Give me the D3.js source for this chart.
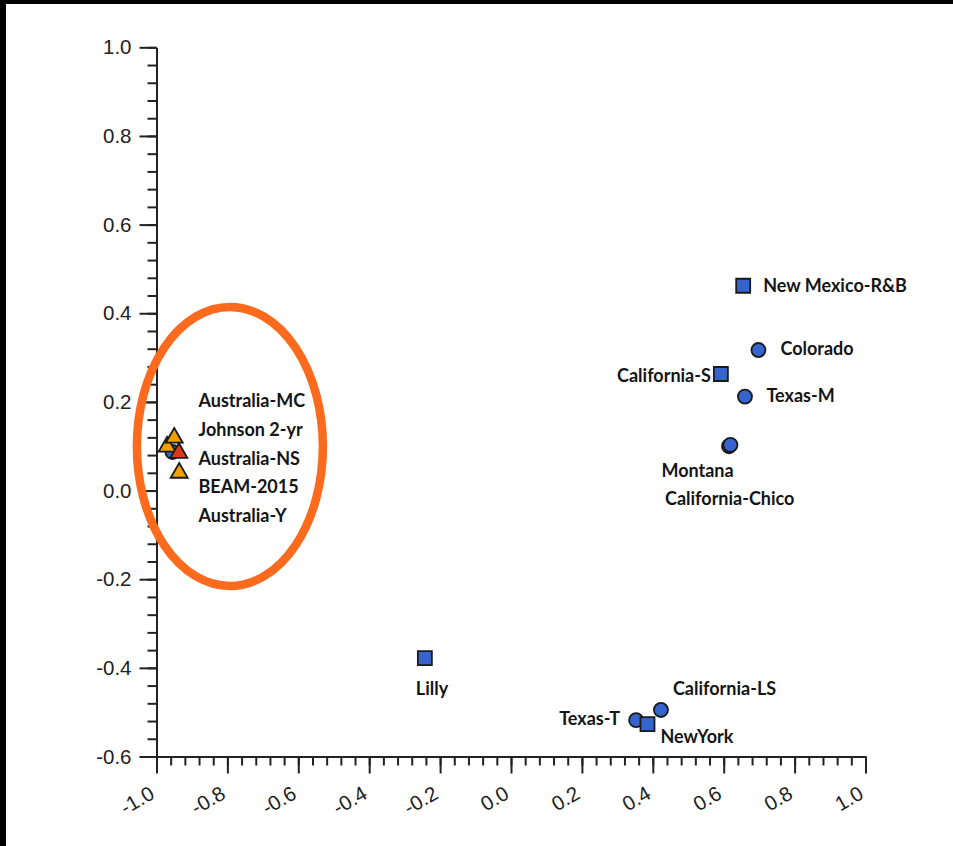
<!DOCTYPE html>
<html>
<head>
<meta charset="utf-8">
<script src="https://cdn.jsdelivr.net/npm/d3@7"></script>
<style>
  html, body { margin: 0; padding: 0; background: #fff; }
  svg { display: block; }
  .axis text { font-family: "Liberation Sans", Arial, sans-serif; font-size: 20.5px; fill: #222; }
  .axis path, .axis line { stroke: #222; stroke-width: 2; }
  .lbl { font-family: Lato, "Open Sans", sans-serif; font-weight: 700; font-size: 18px; fill: #151515; }
</style>
</head>
<body>
<svg id="chart" width="953" height="846"></svg>
<script>
// Programme / study names and their coordinates on the two dimensions
const names = [
  "New Mexico-R&B", "Colorado", "California-S", "Texas-M",
  "California-Chico", "Montana", "Lilly", "Texas-T", "NewYork", "California-LS",
  "Johnson 2-yr", "Australia-NS", "Australia-MC", "BEAM-2015", "Australia-Y"
];
const dim1 = [
  0.655, 0.698, 0.592, 0.660,
  0.615, 0.619, -0.243, 0.353, 0.385, 0.423,
  -0.955, -0.970, -0.950, -0.937, -0.936
];
const dim2 = [
  0.462, 0.317, 0.263, 0.212,
  0.100, 0.103, -0.378, -0.518, -0.527, -0.495,
  0.087, 0.099, 0.119, 0.085, 0.040
];
const groups = [
  "A", "B", "A", "B",
  "B", "B", "A", "B", "A", "B",
  "B", "C", "C", "D", "C"
];

// Names listed inside the highlighted cluster
const clusterNames = ["Australia-MC", "Johnson 2-yr", "Australia-NS", "BEAM-2015", "Australia-Y"];

// Axis ticks
const xMajor = [-1.0, -0.8, -0.6, -0.4, -0.2, 0.0, 0.2, 0.4, 0.6, 0.8, 1.0];
const xTickLabels = ["-1.0", "-0.8", "-0.6", "-0.4", "-0.2", "0.0", "0.2", "0.4", "0.6", "0.8", "1.0"];
const yMajor = [1.0, 0.8, 0.6, 0.4, 0.2, 0.0, -0.2, -0.4, -0.6];
const yTickLabels = ["1.0", "0.8", "0.6", "0.4", "0.2", "0.0", "-0.2", "-0.4", "-0.6"];

const svg = d3.select("#chart");

// black edges of the frame
svg.append("rect").attr("x", 0).attr("y", 0).attr("width", 953).attr("height", 4).attr("fill", "#000");
svg.append("rect").attr("x", 0).attr("y", 0).attr("width", 6).attr("height", 846).attr("fill", "#000");

const x = d3.scaleLinear().domain([-1, 1]).range([156.5, 865.5]);
const y = d3.scaleLinear().domain([-0.6, 1.0]).range([756.5, 47.3]);

const minorVals = (lo, hi, step) => d3.range(Math.round((hi - lo) / step) + 1)
  .map(i => +(lo + i * step).toFixed(4));

// minor ticks
svg.append("g").attr("class", "axis")
  .attr("transform", `translate(0,${y(-0.6)})`)
  .call(d3.axisBottom(x).tickValues(minorVals(-1, 1, 0.04)).tickSize(9).tickSizeOuter(0).tickFormat(""))
  .call(g => g.select(".domain").remove());
svg.append("g").attr("class", "axis")
  .attr("transform", `translate(${x(-1)},0)`)
  .call(d3.axisLeft(y).tickValues(minorVals(-0.6, 1.0, 0.04)).tickSize(9).tickSizeOuter(0).tickFormat(""))
  .call(g => g.select(".domain").remove());

// major ticks with labels
const xAxis = svg.append("g").attr("class", "axis")
  .attr("transform", `translate(0,${y(-0.6)})`)
  .call(d3.axisBottom(x).tickValues(xMajor).tickSize(17).tickSizeOuter(0)
    .tickFormat((d, i) => xTickLabels[i]));
xAxis.selectAll("text")
  .attr("x", 0).attr("y", 0).attr("dy", 0)
  .attr("text-anchor", "end")
  .attr("transform", "translate(-1,41) rotate(-30)");

svg.append("g").attr("class", "axis")
  .attr("transform", `translate(${x(-1)},0)`)
  .call(d3.axisLeft(y).tickValues(yMajor).tickSize(17).tickSizeOuter(0).tickPadding(8)
    .tickFormat((d, i) => yTickLabels[i]));

// marker styles per group
const style = {
  A: { shape: d3.symbolSquare, size: 196, fill: "#3564cf" },
  B: { shape: d3.symbolCircle, size: 155, fill: "#3564cf" },
  C: { shape: d3.symbolTriangle, size: 125, fill: "#f2a000" },
  D: { shape: d3.symbolTriangle, size: 125, fill: "#d93a1c" }
};

const pts = names.map((n, i) => ({ name: n, x: dim1[i], y: dim2[i], g: groups[i] }));

// drawing order keeps the overlaps of the cluster readable
const order = ["New Mexico-R&B", "Colorado", "California-S", "Texas-M", "California-Chico", "Montana",
  "Lilly", "Texas-T", "NewYork", "California-LS",
  "Johnson 2-yr", "Australia-NS", "Australia-MC", "BEAM-2015", "Australia-Y"];
const drawn = order.map(n => pts.find(p => p.name === n));

svg.append("g").selectAll("path")
  .data(drawn)
  .join("path")
  .attr("transform", d => `translate(${x(d.x)},${y(d.y)})`)
  .attr("d", d => d3.symbol(style[d.g].shape, style[d.g].size)())
  .attr("fill", d => style[d.g].fill)
  .attr("stroke", "#1a1a1a")
  .attr("stroke-width", 1.8)
  .attr("stroke-linejoin", "miter");

// point labels: offset from the marker in pixels
const placement = {
  "New Mexico-R&B": [20, 6, "start"],
  "Colorado": [22, 5, "start"],
  "California-S": [-10, 8.5, "end"],
  "Texas-M": [21.5, 5, "start"],
  "Montana": [-69, 32, "start"],
  "California-Chico": [-64, 59, "start"],
  "Lilly": [-9, 37, "start"],
  "Texas-T": [-16, 4.5, "end"],
  "NewYork": [13, 19, "start"],
  "California-LS": [12, -15, "start"]
};

svg.append("g").selectAll("text")
  .data(pts.filter(p => placement[p.name]))
  .join("text")
  .attr("class", "lbl")
  .attr("x", d => x(d.x) + placement[d.name][0])
  .attr("y", d => y(d.y) + placement[d.name][1])
  .attr("text-anchor", d => placement[d.name][2])
  .text(d => d.name);

// stacked names for the cluster near dimension 1 = -1
svg.append("g").selectAll("text")
  .data(clusterNames)
  .join("text")
  .attr("class", "lbl")
  .attr("x", x(-1) + 42)
  .attr("y", (d, i) => 407 + i * 28.75)
  .text(d => d);

// highlight ring around the cluster
svg.append("ellipse")
  .attr("cx", x(-0.793))
  .attr("cy", y(0.0995))
  .attr("rx", 93)
  .attr("ry", 139.5)
  .attr("fill", "none")
  .attr("stroke", "#fc6a1e")
  .attr("stroke-width", 8.5);
</script>
</body>
</html>
